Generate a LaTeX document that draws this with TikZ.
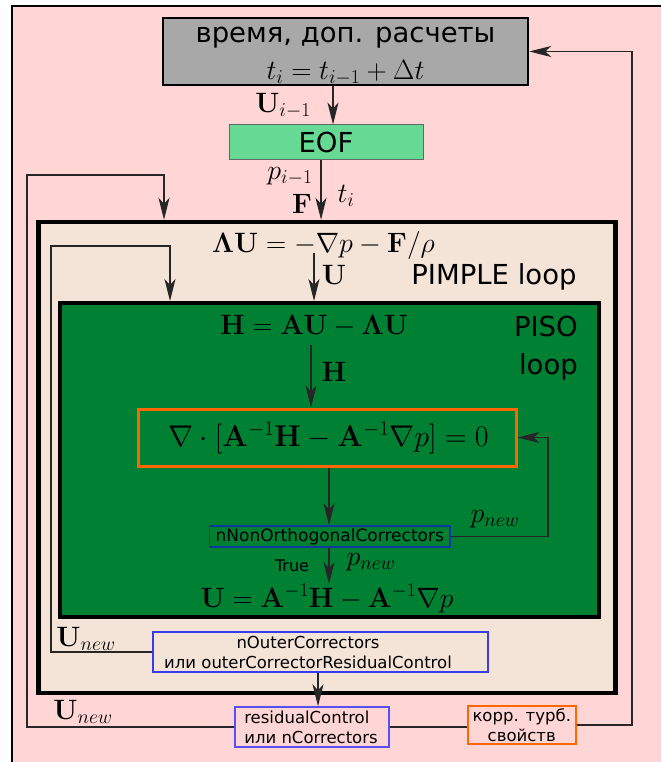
\RequirePackage{fix-cm}
\documentclass[tikz,border=0pt]{standalone}
\usepackage{amsmath}
\usepackage[no-math]{fontspec}
\setsansfont{DejaVu Sans}
\usetikzlibrary{arrows.meta}
\definecolor{pinkbg}{HTML}{FFD5D5}
\definecolor{beigebg}{HTML}{F4E3D7}
\definecolor{pisogreen}{HTML}{008033}
\definecolor{eofgreen}{HTML}{66D995}
\definecolor{graybox}{HTML}{A8A8A8}
\definecolor{orangeline}{HTML}{FF6600}
\definecolor{darkblue}{HTML}{0D3A9E}
\definecolor{brightblue}{HTML}{3A3AF0}
\definecolor{violetblue}{HTML}{5A50F0}
\begin{document}
\begin{tikzpicture}[x=1pt,y=-1pt,
  conn/.style={draw=black!85, line width=1.2pt},
  arr/.style={conn,-{Stealth[length=22pt,width=11pt,inset=6pt]}},
  box/.style={draw, rectangle, inner sep=0pt, anchor=center},
  bigtext/.style={font=\sffamily\fontsize{27.5}{33}\selectfont, inner sep=0pt},
  smalltext/.style={font=\sffamily\fontsize{16.5}{21}\selectfont, inner sep=0pt},
  eq/.style={font=\fontsize{28}{34}\selectfont, inner sep=0pt},
]
\useasboundingbox (0,0) rectangle (661,762);
\fill[white] (0,0) rectangle (661,762);
\fill[pinkbg] (12,6) rectangle (661,762);
\draw[line width=1.5pt] (12,762) -- (12,6) -- (661,6);

% time step box and EOF
\node[box, fill=graybox, line width=2.5pt, minimum width=365pt, minimum height=67pt] (gray) at (345.5,51.5) {};
\node[bigtext] (gtxt) at (345.5,38) {время, доп. расчеты};
\node[eq] (teq) at (345.5,73) {$t_i = t_{i-1} + \Delta t$};
\node[box, fill=eofgreen, draw=black!60, line width=1pt, minimum width=194pt, minimum height=35pt] (eof) at (326,142.5) {};
\node[bigtext] (eoftxt) at (326,142.5) {EOF};

% PIMPLE loop
\node[box, fill=beigebg, line width=4.5pt, minimum width=577pt, minimum height=471pt] (pimple) at (326.75,457.5) {};
\node[eq] (lam) at (323.5,245) {$\mathbf{\Lambda U} = -\nabla p - \mathbf{F}/\rho$};
\node[bigtext] (pimpletxt) at (494,277) {PIMPLE loop};

% PISO loop
\node[box, fill=pisogreen, line width=4pt, minimum width=539pt, minimum height=314pt] (piso) at (329.5,460) {};
\node[eq] (heq) at (314,326) {$\mathbf{H} = \mathbf{AU} - \mathbf{\Lambda U}$};
\node[bigtext, align=right, anchor=north east, font=\sffamily\fontsize{27.5}{38}\selectfont] (pisotxt) at (578,316) {PISO\\loop};
\node[box, draw=orangeline, line width=3pt, minimum width=378pt, minimum height=57pt] (orange) at (327,437.5) {};
\node[eq, font=\fontsize{30}{36}\selectfont] (peq) at (328.5,438) {$\nabla\cdot[\mathbf{A}^{-1}\mathbf{H} - \mathbf{A}^{-1}\nabla p] = 0$};
\node[box, draw=darkblue, line width=1.5pt, minimum width=240.5pt, minimum height=21pt] (nnon) at (329.75,536.5) {};
\node[smalltext, font=\sffamily\fontsize{17}{21}\selectfont] (nnontxt) at (329.75,536.5) {nNonOrthogonalCorrectors};
\node[eq, anchor=north] (ueq) at (327,584) {$\mathbf{U} = \mathbf{A}^{-1}\mathbf{H} - \mathbf{A}^{-1}\nabla p$};

% outer corrector check
\node[box, draw=brightblue, line width=1.5pt, minimum width=335pt, minimum height=40pt] (nouter) at (320.5,652) {};
\node[smalltext, align=center, font=\sffamily\fontsize{16.5}{20}\selectfont] (noutertxt) at (308,652) {nOuterCorrectors\\или outerCorrectorResidualControl};

% residual control and turbulence correction
\node[box, draw=violetblue, line width=1.5pt, minimum width=154pt, minimum height=40pt] (res) at (312,727) {};
\node[smalltext, align=left, font=\sffamily\fontsize{16.5}{20}\selectfont] (restxt) at (311,727) {residualControl\\или nCorrectors};
\node[box, draw=orangeline, line width=2pt, minimum width=107.5pt, minimum height=38pt] (korr) at (521.75,725) {};
\node[smalltext, align=center, font=\sffamily\fontsize{16.5}{20}\selectfont] (korrtxt) at (521.75,725) {корр. турб.\\свойств};

% connectors
\draw[arr] (333,0 |- gray.south) -- (333,0 |- eof.north);
\draw[arr] (321,0 |- eof.south) -- (321,0 |- pimple.north);
\draw[arr] (res.west) -| (27,175) -| (164,0 |- pimple.north);
\draw[arr] (nouter.west) -| (51,246) -| (170,0 |- piso.north);
\draw[arr] (314,253) -- (314,0 |- piso.north);
\draw[arr] (311,345) -- (311,0 |- orange.north);
\draw[arr] (329,0 |- orange.south) -- (329,0 |- nnon.north);
\draw[arr] (nnon.east) -| (548,0 |- orange.east) -- (orange.east);
\draw[arr] (329,0 |- nnon.south) -- (329,0 |- ueq.north);
\draw[arr] (318,0 |- nouter.south) -- (318,0 |- res.north);
\draw[conn] (res.east) -- (res.east -| korr.west);
\draw[arr] (korr.east) -| (632,0 |- gray.east) -- (gray.east);

% connector labels
\node[eq] (lu) at (283,106) {$\mathbf{U}_{i-1}$};
\node[eq] (lp) at (290,176) {$p_{i-1}$};
\node[eq] (lt) at (346,196) {$t_i$};
\node[eq] (lf) at (302,204) {$\mathbf{F}$};
\node[eq] (lU) at (334,275) {$\mathbf{U}$};
\node[eq] (lH) at (334,372) {$\mathbf{H}$};
\node[eq] (lpn1) at (495,519) {$p_{new}$};
\node[smalltext, font=\sffamily\fontsize{16}{18}\selectfont] (ltrue) at (292,566) {True};
\node[eq] (lpn2) at (371,562) {$p_{new}$};
\node[eq] (lun1) at (86,639) {$\mathbf{U}_{new}$};
\node[eq] (lun2) at (83,712) {$\mathbf{U}_{new}$};
\end{tikzpicture}
\end{document}
